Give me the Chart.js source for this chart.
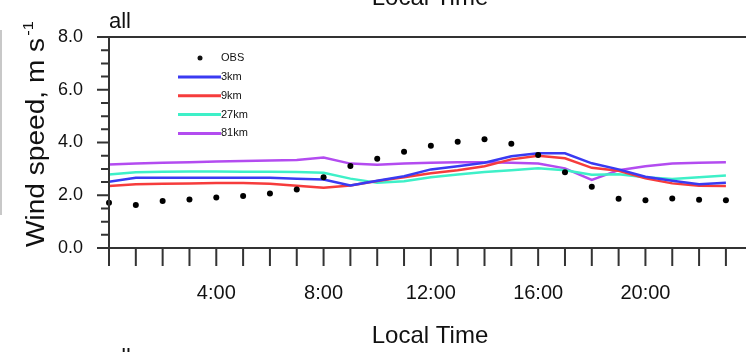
<!DOCTYPE html>
<html>
<head>
<meta charset="utf-8">
<script src="https://cdn.jsdelivr.net/npm/chart.js@4"></script>
<style>
  html, body { margin: 0; padding: 0; background: #fff; }
  #wrap { width: 746px; height: 352px; }
</style>
</head>
<body>
<div id="wrap"><canvas id="windChart" width="746" height="352"></canvas></div>
<script>
// hourly values (local time 0..23)
const hours = [0, 1, 2, 3, 4, 5, 6, 7, 8, 9, 10, 11, 12, 13, 14, 15, 16, 17, 18, 19, 20, 21, 22, 23];
const obs = [1.72, 1.63, 1.78, 1.84, 1.91, 1.97, 2.07, 2.22, 2.68, 3.11, 3.38, 3.65, 3.88, 4.03, 4.12, 3.95, 3.53, 2.87, 2.32, 1.87, 1.81, 1.88, 1.83, 1.81];
const km3 = [2.51, 2.66, 2.66, 2.66, 2.66, 2.66, 2.66, 2.63, 2.6, 2.37, 2.55, 2.72, 2.98, 3.1, 3.23, 3.48, 3.59, 3.59, 3.21, 2.98, 2.7, 2.55, 2.42, 2.47];
const km9 = [2.35, 2.42, 2.44, 2.45, 2.46, 2.46, 2.44, 2.36, 2.28, 2.37, 2.54, 2.68, 2.83, 2.95, 3.1, 3.36, 3.5, 3.4, 3.04, 2.93, 2.64, 2.45, 2.36, 2.35];
const km27 = [2.79, 2.87, 2.89, 2.9, 2.9, 2.89, 2.89, 2.88, 2.85, 2.63, 2.47, 2.53, 2.68, 2.79, 2.88, 2.95, 3.02, 2.95, 2.78, 2.8, 2.68, 2.62, 2.68, 2.75];
const km81 = [3.17, 3.2, 3.23, 3.25, 3.28, 3.3, 3.32, 3.34, 3.43, 3.2, 3.16, 3.2, 3.23, 3.25, 3.25, 3.23, 3.2, 3.02, 2.58, 2.95, 3.1, 3.2, 3.23, 3.25];

const xLabels = { 4: '4:00', 8: '8:00', 12: '12:00', 16: '16:00', 20: '20:00' };
const yLabels = ['0.0', '2.0', '4.0', '6.0', '8.0'];

const FONT = "'Liberation Sans', Arial, Helvetica, sans-serif";
const AXIS = '#333333';

const toPoints = (vals) => vals.map((v, i) => ({ x: hours[i], y: v }));

const series = [
  { label: '3km', data: km3, color: '#3a3af2' },
  { label: '9km', data: km9, color: '#f63c3c' },
  { label: '27km', data: km27, color: '#3ef0c8' },
  { label: '81km', data: km81, color: '#b34cf0' },
];

// frame, tick marks, titles and the in-plot legend
const decorations = {
  id: 'decorations',
  afterDraw(chart) {
    const ctx = chart.ctx;
    const xs = chart.scales.x;
    const ys = chart.scales.y;
    const area = chart.chartArea;
    ctx.save();

    // faint border at the very left edge
    ctx.strokeStyle = '#c8c8c8';
    ctx.lineWidth = 2;
    ctx.beginPath();
    ctx.moveTo(1, 30);
    ctx.lineTo(1, 215);
    ctx.stroke();

    ctx.strokeStyle = AXIS;
    ctx.lineWidth = 2;
    ctx.beginPath();
    // top and bottom frame lines
    ctx.moveTo(area.left - 12, area.top);
    ctx.lineTo(chart.width, area.top);
    ctx.moveTo(area.left - 12, area.bottom);
    ctx.lineTo(chart.width, area.bottom);
    ctx.moveTo(area.left, area.top);
    ctx.lineTo(area.left, area.bottom);
    // y ticks every 0.5, longer at labelled values
    for (let v = 0; v <= 8; v += 0.5) {
      const y = ys.getPixelForValue(v);
      const len = v % 2 === 0 ? 12 : 8;
      ctx.moveTo(area.left - len, y);
      ctx.lineTo(area.left, y);
    }
    // x ticks every hour
    hours.forEach((h) => {
      const x = xs.getPixelForValue(h);
      ctx.moveTo(x, area.bottom);
      ctx.lineTo(x, area.bottom + 18);
    });
    ctx.stroke();

    ctx.fillStyle = '#111';
    // panel titles
    ctx.font = '22px ' + FONT;
    ctx.textAlign = 'left';
    ctx.textBaseline = 'alphabetic';
    ctx.fillText('all', area.left, 28);
    ctx.fillText('all', area.left, 364);

    ctx.font = '24px ' + FONT;
    ctx.textAlign = 'center';
    ctx.fillText('Local Time', 430, 343);
    ctx.fillText('Local Time', 430, 5);

    // rotated y title with superscript
    ctx.save();
    ctx.translate(44, 247);
    ctx.rotate(-Math.PI / 2);
    ctx.scale(1.08, 1);
    ctx.textAlign = 'left';
    ctx.font = '26px ' + FONT;
    const main = 'Wind speed, m s';
    ctx.fillText(main, 0, 0);
    const w = ctx.measureText(main).width;
    ctx.font = '15px ' + FONT;
    ctx.fillText('-1', w + 2, -11);
    ctx.restore();

    // legend inside the plot
    ctx.font = '11px ' + FONT;
    ctx.textAlign = 'left';
    ctx.textBaseline = 'middle';
    ctx.beginPath();
    ctx.arc(200, 58, 2.5, 0, Math.PI * 2);
    ctx.fill();
    ctx.fillText('OBS', 221, 58);
    series.forEach((s, i) => {
      const y = 77 + i * 18.8;
      ctx.strokeStyle = s.color;
      ctx.lineWidth = 3;
      ctx.beginPath();
      ctx.moveTo(178, y);
      ctx.lineTo(221, y);
      ctx.stroke();
      ctx.fillStyle = '#111';
      ctx.fillText(s.label, 221, y);
    });

    ctx.restore();
  }
};

const datasets = [
  {
    label: 'OBS',
    data: toPoints(obs),
    showLine: false,
    pointRadius: 3,
    pointBackgroundColor: '#000',
    pointBorderWidth: 0,
  },
  ...series.map((s) => ({
    label: s.label,
    data: toPoints(s.data),
    borderColor: s.color,
    borderWidth: 2.5,
    pointRadius: 0,
    tension: 0,
  })),
];

new Chart(document.getElementById('windChart'), {
  type: 'line',
  data: { datasets },
  plugins: [decorations],
  options: {
    responsive: false,
    animation: false,
    clip: false,
    layout: { padding: { top: 37, right: 0, left: 0, bottom: 0 } },
    plugins: { legend: { display: false }, tooltip: { enabled: false } },
    scales: {
      x: {
        type: 'linear',
        min: 0,
        max: 23.6,
        grid: { display: false, drawTicks: false },
        border: { display: false },
        afterFit: (scale) => {
          scale.height = 104;
          scale.paddingLeft = 0;
          scale.paddingRight = 0;
        },
        ticks: {
          stepSize: 1,
          autoSkip: false,
          maxRotation: 0,
          padding: 33,
          color: '#111',
          font: { family: FONT, size: 20 },
          callback: (v) => xLabels[v] || '',
        },
      },
      y: {
        min: 0,
        max: 8,
        grid: { display: false, drawTicks: false },
        border: { display: false },
        afterFit: (scale) => {
          scale.width = 109;
          scale.paddingTop = 0;
          scale.paddingBottom = 0;
        },
        ticks: {
          stepSize: 0.5,
          autoSkip: false,
          padding: 26,
          color: '#111',
          font: { family: FONT, size: 18 },
          callback: (v) => (v % 2 === 0 ? yLabels[v / 2] : ''),
        },
      },
    },
  },
});
</script>
</body>
</html>
